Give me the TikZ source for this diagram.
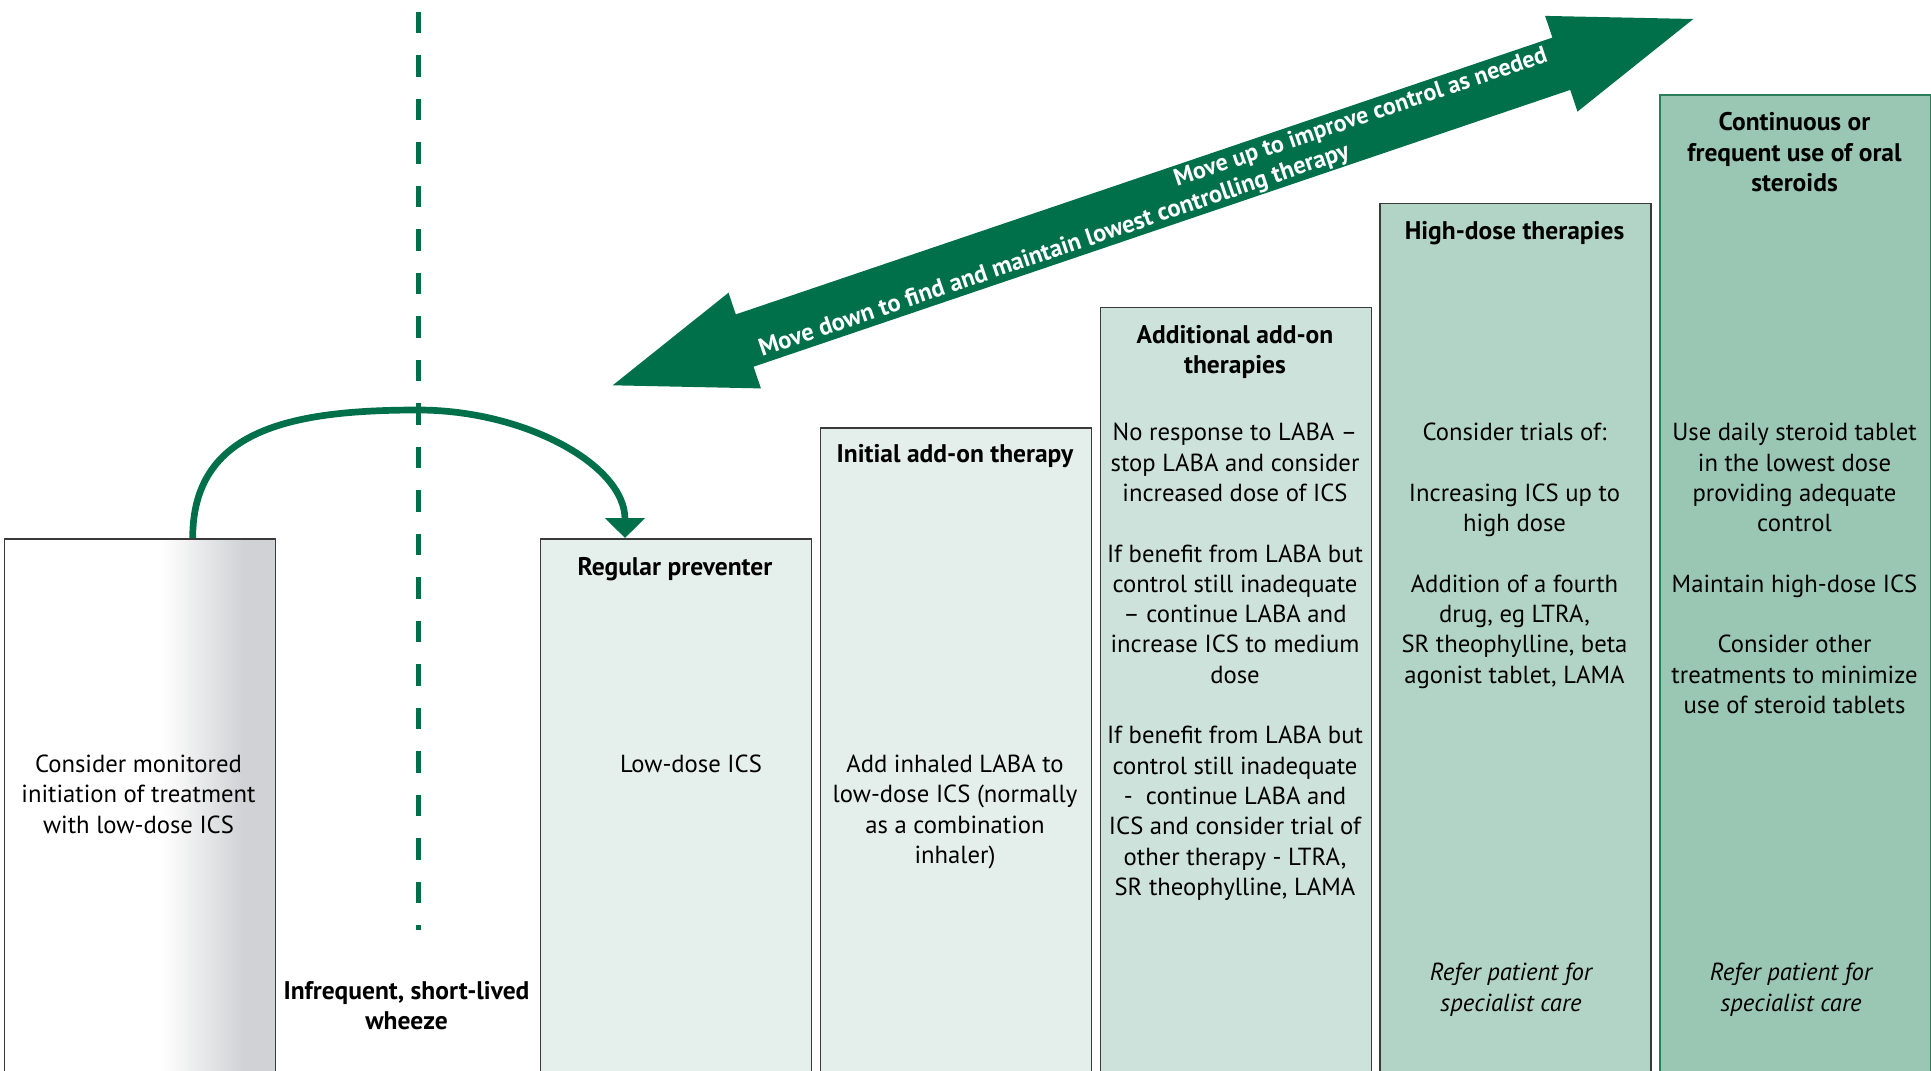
\documentclass[tikz,border=0pt]{standalone}
\usepackage{fontspec}
\setmainfont{PT Sans}
\usetikzlibrary{arrows.meta}
\definecolor{dgreen}{HTML}{00704A}
\definecolor{cA}{HTML}{E5EFEB}
\definecolor{cB}{HTML}{E4EEEA}
\definecolor{cC}{HTML}{CDE2DA}
\definecolor{cD}{HTML}{B2D4C7}
\definecolor{cE}{HTML}{99C7B4}
\definecolor{grz}{HTML}{D1D2D5}
\definecolor{bord}{HTML}{3A3A3A}
\definecolor{gbord}{HTML}{2E7D5A}
\pgfdeclarehorizontalshading{boxgrad}{100bp}{color(0bp)=(white); color(54bp)=(white); color(69bp)=(grz); color(100bp)=(grz)}
\begin{document}
\begin{tikzpicture}[x=1pt,y=-1pt,
  stepbox/.style={draw=bord, line width=1.6pt, anchor=north west, inner sep=0pt,
    minimum width=271pt, minimum height=1050pt},
  txt/.style={align=center, inner sep=0pt, anchor=north, text=black,
    font=\fontsize{24.7}{30.3}\selectfont},
  hdr/.style={txt, font=\fontsize{25.5}{30.3}\selectfont\bfseries},
  itx/.style={txt, font=\fontsize{24.7}{30.3}\selectfont\itshape},
  arrtxt/.style={inner sep=0pt, anchor=base, text=white, rotate=18.72,
    font=\fontsize{24}{28}\selectfont\bfseries}]
\useasboundingbox (0,0) rectangle (1931,1071);
\fill[white] (0,0) rectangle (1931,1071);

% steps
\node[stepbox, shading=boxgrad, draw=bord] (b0) at (3.5,538) {};
\node[stepbox, fill=cA] (b1) at (539.5,538) {};
\node[stepbox, fill=cB] (b2) at (819.5,427) {};
\node[stepbox, fill=cC] (b3) at (1099.5,306.5) {};
\node[stepbox, fill=cD] (b4) at (1379,202.5) {};
\node[stepbox, fill=cE, draw=gbord] (b5) at (1659,94) {};

% texts
\node[txt] (t0) at (138.5,751) {\strut Consider monitored\\initiation of treatment\\with low-dose ICS};
\node[hdr] (t0b) at (406.5,977.7) {\strut Infrequent, short-lived\\wheeze};
\node[hdr] (h1) at (675,553.7) {\strut Regular preventer};
\node[txt] (l1) at (691,751) {\strut Low-dose ICS};
\node[hdr] (h2) at (955,441.2) {\strut Initial add-on therapy};
\node[txt] (l2) at (955,751) {\strut Add inhaled LABA to\\low-dose ICS (normally\\as a combination\\inhaler)};
\node[hdr] (h3) at (1235,321.7) {\strut Additional add-on\\therapies};
\node[txt] (l3) at (1235,419.4) {\strut No response to LABA –\\stop LABA and consider\\increased dose of ICS\\[30.3pt]
If benefit from LABA but\\control still inadequate\\– continue LABA and\\increase ICS to medium\\dose\\[30.3pt]
If benefit from LABA but\\control still inadequate\\-~ continue LABA and\\ICS and consider trial of\\other therapy - LTRA,\\SR theophylline, LAMA};
\node[hdr] (h4) at (1514.5,217.7) {\strut High-dose therapies};
\node[txt] (l4) at (1514.5,419.4) {\strut Consider trials of:\\[30.3pt]
Increasing ICS up to\\high dose\\[30.3pt]
Addition of a fourth\\drug, eg LTRA,\\SR theophylline, beta\\agonist tablet, LAMA};
\node[itx] (i4) at (1511,959.4) {\strut Refer patient for\\specialist care};
\node[hdr] (h5) at (1794.5,109.4) {\strut Continuous or\\frequent use of oral\\steroids};
\node[txt] (l5) at (1794.5,419.4) {\strut Use daily steroid tablet\\in the lowest dose\\providing adequate\\control\\[30.3pt]
Maintain high-dose ICS\\[30.3pt]
Consider other\\treatments to minimize\\use of steroid tablets};
\node[itx] (i5) at (1791,959.4) {\strut Refer patient for\\specialist care};

% dashed divider
\coordinate (dtop) at (418.3,11.5);
\coordinate (dbot) at (418.3,930);
\draw[dgreen, line width=5pt, dash pattern=on 21.7pt off 21.8pt] (dtop) -- (dbot);

% curved arrow
\draw[dgreen, line width=6.7pt, -{Triangle[length=20pt,width=39pt]}]
  ([xshift=189.2pt]b0.north west) .. controls (192.7,430) and (290,410) .. (418,410)
  .. controls (525,410) and (625,465) .. ([xshift=85.5pt]b1.north west);

% big double arrow
\fill[dgreen] (612.7,385.3) -- (728.5,292.7) -- (735.8,314.4) -- (1552.4,37.6)
  -- (1545.1,15.9) -- (1693.3,19) -- (1577.5,111.6) -- (1570.2,89.9)
  -- (753.6,366.7) -- (760.9,388.4) -- cycle;
\node[arrtxt] (up) at (1362.9,123.9) {Move up to improve control as needed};
\node[arrtxt, font=\fontsize{24.6}{28}\selectfont\bfseries] (down) at (1056.4,257.1) {Move down to find and maintain lowest controlling therapy};
\end{tikzpicture}
\end{document}
